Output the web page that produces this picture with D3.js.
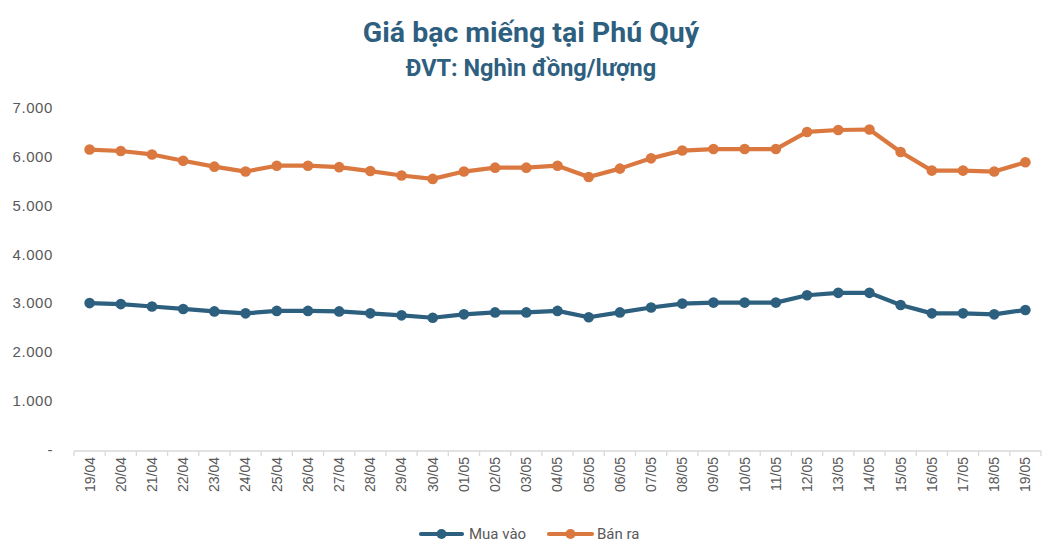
<!DOCTYPE html>
<html>
<head>
<meta charset="utf-8">
<script src="https://cdn.jsdelivr.net/npm/d3@7"></script>
<style>
  html, body { margin: 0; padding: 0; background: #fff; }
  svg { display: block; }
</style>
</head>
<body>
<svg id="chart" width="1058" height="556"></svg>
<script>
const categories = ["19/04","20/04","21/04","22/04","23/04","24/04","25/04","26/04","27/04","28/04","29/04","30/04",
  "01/05","02/05","03/05","04/05","05/05","06/05","07/05","08/05","09/05","10/05","11/05","12/05","13/05","14/05",
  "15/05","16/05","17/05","18/05","19/05"];
const muaVao = [3000,2980,2930,2880,2830,2790,2840,2840,2830,2790,2750,2700,
  2770,2810,2810,2840,2710,2810,2910,2990,3010,3010,3010,3160,3210,3210,
  2960,2790,2790,2770,2860];
const banRa = [6140,6110,6040,5910,5790,5690,5810,5810,5780,5700,5610,5540,
  5690,5770,5770,5810,5580,5750,5960,6120,6150,6150,6150,6500,6540,6550,
  6090,5710,5710,5690,5880];
const yTicks = [0,1000,2000,3000,4000,5000,6000,7000];
const seriesNames = ["Mua vào","Bán ra"];
const titleText = "Giá bạc miếng tại Phú Quý";
const subtitleText = "ĐVT: Nghìn đồng/lượng";

const colors = { "Mua vào": "#2d5f7f", "Bán ra": "#da783f" };
const svg = d3.select("#chart");

const x = d3.scaleBand().domain(categories).range([74, 1041]).padding(0);
const y = d3.scaleLinear().domain([0, 7000]).range([449.8, 107.5]);

// Title
svg.append("text").attr("x", 531).attr("y", 42).attr("text-anchor", "middle")
  .attr("font-family", "Roboto, sans-serif").attr("font-weight", "bold").attr("font-size", 28.5)
  .attr("fill", "#2e5f7f").text(titleText);
svg.append("text").attr("x", 531).attr("y", 76).attr("text-anchor", "middle")
  .attr("font-family", "Roboto, sans-serif").attr("font-weight", "bold").attr("font-size", 23.5)
  .attr("fill", "#2e5f7f").text(subtitleText);

// Y axis labels
const fmt = v => v === 0 ? "-" : d3.format(",")(v).replace(/,/g, ".");
const yAxis = d3.axisLeft(y).tickValues(yTicks).tickFormat(fmt).tickSize(0).tickPadding(0);
const gy = svg.append("g").attr("transform", "translate(53,0)").call(yAxis);
gy.select(".domain").remove();
gy.selectAll("text").attr("font-family", "Liberation Sans, Arial, sans-serif")
  .attr("font-size", 15).attr("fill", "#595959").attr("letter-spacing", "0.6px");

// X axis
const xAxis = d3.axisBottom(x).tickSize(0).tickPadding(0);
const gx = svg.append("g").attr("transform", "translate(0,451)").call(xAxis);
gx.select(".domain").attr("stroke", "#d9d9d9").attr("stroke-width", 1.3).attr("d", "M74,0H1041");
gx.selectAll(".tick line").remove();
gx.selectAll(".tick text")
  .attr("font-family", "Liberation Sans, Arial, sans-serif").attr("font-size", 14).attr("fill", "#595959")
  .attr("transform", "rotate(-90)").attr("text-anchor", "end").attr("dy", "0.35em")
  .attr("x", -6).attr("y", 0);
// boundary ticks
const bounds = categories.map(c => x(c)).concat([x(categories[categories.length-1]) + x.bandwidth()]);
gx.selectAll(".btick").data(bounds).enter().append("line").attr("class", "btick")
  .attr("x1", d => d).attr("x2", d => d).attr("y1", 0).attr("y2", 5)
  .attr("stroke", "#d9d9d9").attr("stroke-width", 1.3);

// Lines
const cx = c => x(c) + x.bandwidth() / 2;
const series = [
  { name: "Mua vào", values: muaVao },
  { name: "Bán ra", values: banRa }
];
const line = d3.line().x((d, i) => cx(categories[i])).y(d => y(d));
series.forEach(s => {
  svg.append("path").datum(s.values).attr("d", line).attr("fill", "none")
    .attr("stroke", colors[s.name]).attr("stroke-width", 4.2).attr("stroke-linejoin", "round");
  svg.append("g").selectAll("circle").data(s.values).enter().append("circle")
    .attr("cx", (d, i) => cx(categories[i])).attr("cy", d => y(d)).attr("r", 5.3)
    .attr("fill", colors[s.name]);
});

// Legend
const legendItems = [
  { name: "Mua vào", x0: 421, x1: 462, tx: 469 },
  { name: "Bán ra", x0: 549, x1: 592, tx: 597 }
];
const lg = svg.append("g");
legendItems.forEach(it => {
  lg.append("line").attr("x1", it.x0).attr("x2", it.x1).attr("y1", 534).attr("y2", 534)
    .attr("stroke", colors[it.name]).attr("stroke-width", 4.2).attr("stroke-linecap", "round");
  lg.append("circle").attr("cx", (it.x0 + it.x1) / 2).attr("cy", 534).attr("r", 5).attr("fill", colors[it.name]);
  lg.append("text").attr("x", it.tx).attr("y", 534).attr("dy", "0.35em")
    .attr("font-family", "Roboto, sans-serif").attr("font-size", 15).attr("fill", "#595959").text(it.name);
});
</script>
</body>
</html>
